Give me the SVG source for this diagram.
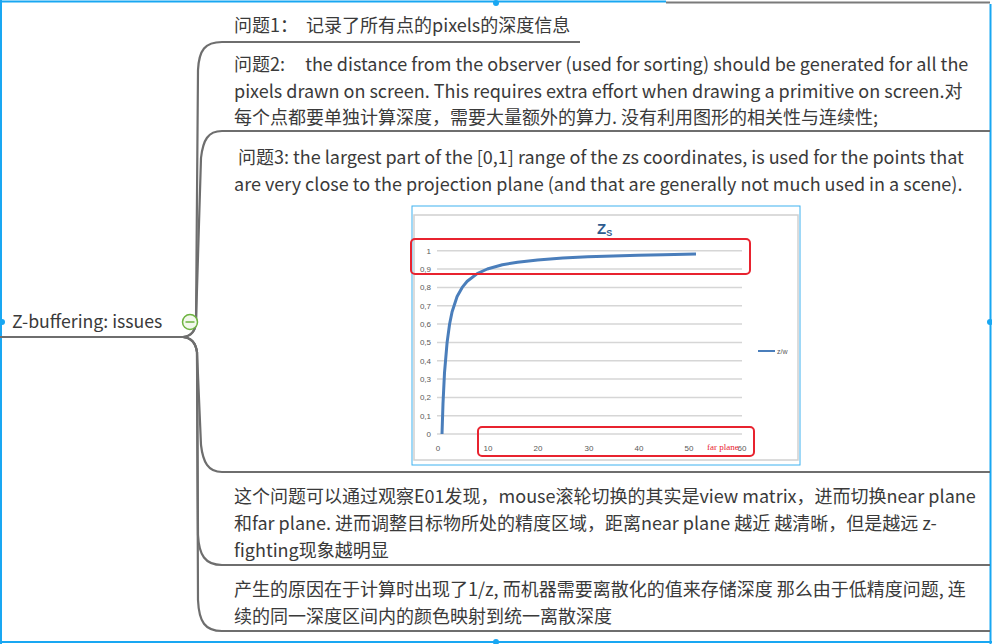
<svg xmlns="http://www.w3.org/2000/svg" width="992" height="644" viewBox="0 0 992 644">
<style>
.t{font-family:"Noto Sans CJK SC","Noto Sans",sans-serif;font-size:18px;fill:#3a3a3a;white-space:pre}
.root{font-family:"Noto Sans CJK SC","Noto Sans",sans-serif;font-size:17.7px;fill:#3a3a3a}
.br{fill:none;stroke:#6e6e6e;stroke-width:2.2;stroke-linecap:round}
.ul{stroke:#6e6e6e;stroke-width:2.2}
.grid{stroke:#d6d6d6;stroke-width:1.5}
.ax{font-family:"Liberation Sans",Arial,sans-serif;font-size:8px;fill:#595959}
.red{fill:none;stroke:#e8232f;stroke-width:2}
.sel{stroke:#19a7f2;stroke-width:2;fill:none}
.h{fill:#19a7f2}
</style>
<rect width="992" height="644" fill="#ffffff"/>
<g id="frame">
<line x1="0" y1="1.5" x2="666" y2="1.5" class="sel"/>
<line x1="666" y1="2.5" x2="990" y2="2.5" stroke="#7a7a7a" stroke-width="2"/>
<line x1="1" y1="0" x2="1" y2="644" class="sel"/>
<line x1="990.5" y1="4" x2="990.5" y2="644" class="sel"/>
<line x1="0" y1="642" x2="992" y2="642" class="sel"/>
<circle cx="496" cy="3" r="3" class="h"/>
<circle cx="2" cy="322" r="3" class="h"/>
<circle cx="990" cy="322" r="3" class="h"/>
<circle cx="496" cy="642" r="3" class="h"/>
</g>
<g id="connectors">
<path class="br" d="M183,337 Q195,336 196,322 L198,70 C199,50 205,42 222,42"/>
<path class="br" d="M183,337 Q195,336 196,322 L201,158 C203,140 208,131 222,131"/>
<path class="br" d="M183,337 Q195,338 197,352 L201,445 C203,462 208,472 222,472"/>
<path class="br" d="M183,337 Q195,338 197,352 L198,535 C199,555 205,565 222,565"/>
<path class="br" d="M183,337 Q195,338 197,352 L198,600 C199,622 205,631 222,631"/>
</g>
<g id="root">
<line x1="0" y1="337" x2="184" y2="337" class="ul"/>
<text x="12" y="328" class="root">Z-buffering: issues</text>
<circle cx="190" cy="322" r="7.5" fill="#f2f8ec" stroke="#6db33f" stroke-width="1.5"/>
<line x1="185.5" y1="322" x2="194.5" y2="322" stroke="#6db33f" stroke-width="1.5"/>
</g>
<g id="issue1">
<line x1="222" y1="42" x2="580" y2="42" class="ul"/>
<text x="234" y="32" class="t">问题1：  记录了所有点的pixels的深度信息</text>
</g>
<g id="issue2">
<line x1="222" y1="131" x2="990" y2="131" class="ul"/>
<text x="234" y="71" class="t">问题2:     the distance from the observer (used for sorting) should be generated for all the</text>
<text x="234" y="98" class="t">pixels drawn on screen. This requires extra effort when drawing a primitive on screen.对</text>
<text x="234" y="124" class="t">每个点都要单独计算深度，需要大量额外的算力. 没有利用图形的相关性与连续性;</text>
</g>
<g id="issue3">
<line x1="222" y1="472" x2="990" y2="472" class="ul"/>
<text x="238" y="164" class="t">问题3: the largest part of the [0,1] range of the zs coordinates, is used for the points that</text>
<text x="234" y="191" class="t">are very close to the projection plane (and that are generally not much used in a scene).</text>
<g id="chart">
<rect x="412" y="206" width="388" height="259" fill="#ffffff" stroke="#3fb2f0" stroke-width="1"/>
<rect x="414" y="215" width="384" height="245" fill="none" stroke="#d0d0d0" stroke-width="1.5"/>
<text x="597" y="234" font-family="Liberation Sans,Arial,sans-serif" font-size="15" font-weight="bold" fill="#2e5c8f">Z<tspan font-size="9" dy="2">S</tspan></text>
<g>
<line x1="437" y1="250.7" x2="742" y2="250.7" class="grid"/>
<line x1="437" y1="269" x2="742" y2="269" class="grid"/>
<line x1="437" y1="287.4" x2="742" y2="287.4" class="grid"/>
<line x1="437" y1="305.7" x2="742" y2="305.7" class="grid"/>
<line x1="437" y1="324" x2="742" y2="324" class="grid"/>
<line x1="437" y1="342.4" x2="742" y2="342.4" class="grid"/>
<line x1="437" y1="360.7" x2="742" y2="360.7" class="grid"/>
<line x1="437" y1="379" x2="742" y2="379" class="grid"/>
<line x1="437" y1="397.4" x2="742" y2="397.4" class="grid"/>
<line x1="437" y1="415.7" x2="742" y2="415.7" class="grid"/>
<line x1="437" y1="434" x2="742" y2="434" class="grid"/>
</g>
<g text-anchor="end">
<text x="431" y="253.5" class="ax">1</text>
<text x="431" y="272" class="ax">0,9</text>
<text x="431" y="290" class="ax">0,8</text>
<text x="431" y="308.5" class="ax">0,7</text>
<text x="431" y="327" class="ax">0,6</text>
<text x="431" y="345" class="ax">0,5</text>
<text x="431" y="363.5" class="ax">0,4</text>
<text x="431" y="382" class="ax">0,3</text>
<text x="431" y="400" class="ax">0,2</text>
<text x="431" y="418.5" class="ax">0,1</text>
<text x="431" y="437" class="ax">0</text>
</g>
<g text-anchor="middle">
<text x="438" y="451" class="ax">0</text>
<text x="488" y="451" class="ax">10</text>
<text x="538" y="451" class="ax">20</text>
<text x="589" y="451" class="ax">30</text>
<text x="639" y="451" class="ax">40</text>
<text x="689" y="451" class="ax">50</text>
<text x="742" y="451" class="ax">60</text>
</g>
<path d="M442,434 L443,403.4 L444.5,372.9 L447.1,342.4 L449.6,324 L452.1,311.8 L457.1,296.5 L462.2,287.4 L467.2,281.3 L477.2,273.6 L487.3,269 L502.4,264.8 L517.5,262.2 L537.6,259.9 L562.8,258 L587.9,256.8 L613.1,256 L638.2,255.3 L663.4,254.7 L696,254" fill="none" stroke="#4a7ebb" stroke-width="3" stroke-linejoin="round"/>
<line x1="758" y1="351" x2="775" y2="351" stroke="#4a7ebb" stroke-width="2"/>
<text x="777" y="354" font-family="Liberation Sans,Arial,sans-serif" font-size="7" fill="#595959">z/w</text>
<rect x="411" y="239" width="339" height="35" rx="4" class="red"/>
<rect x="478" y="427" width="276" height="29" rx="4" class="red"/>
<text x="707" y="450" font-family="Liberation Serif,serif" font-size="9" fill="#e8232f">far plane</text>
</g>
</g>
<g id="issue4">
<line x1="222" y1="565" x2="990" y2="565" class="ul"/>
<text x="234" y="503" class="t">这个问题可以通过观察E01发现，mouse滚轮切换的其实是view matrix，进而切换near plane</text>
<text x="234" y="530" class="t">和far plane. 进而调整目标物所处的精度区域，距离near plane 越近 越清晰，但是越远 z-</text>
<text x="234" y="557" class="t">fighting现象越明显</text>
</g>
<g id="issue5">
<line x1="222" y1="631" x2="990" y2="631" class="ul"/>
<text x="234" y="596" class="t">产生的原因在于计算时出现了1/z, 而机器需要离散化的值来存储深度 那么由于低精度问题, 连</text>
<text x="234" y="623" class="t">续的同一深度区间内的颜色映射到统一离散深度</text>
</g>
</svg>
